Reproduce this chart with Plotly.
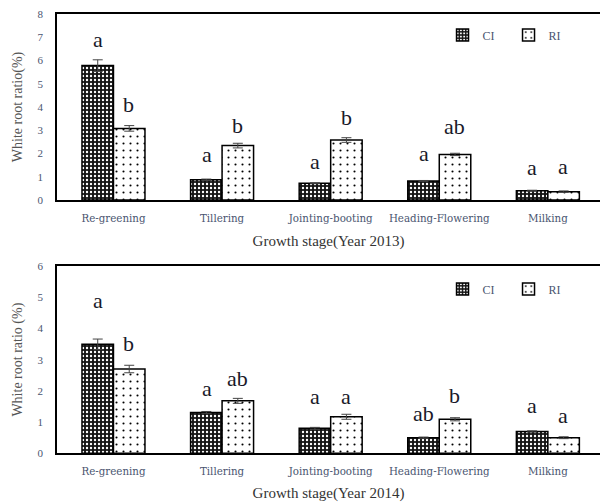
import plotly.graph_objects as go

stages = ["Re-greening", "Tillering", "Jointing-booting", "Heading-Flowering", "Milking"]

# Year 2013
ci_2013 = [5.78, 0.87, 0.72, 0.82, 0.40]
ci_2013_err = [0.25, 0.03, 0.02, 0.02, 0.02]
ri_2013 = [3.08, 2.34, 2.58, 1.96, 0.36]
ri_2013_err = [0.12, 0.10, 0.10, 0.05, 0.03]
ci_2013_sig = ["a", "a", "a", "a", "a"]
ri_2013_sig = ["b", "b", "b", "ab", "a"]
ci_2013_sig_y = [6.9, 1.94, 1.65, 2.0, 1.4]
ri_2013_sig_y = [4.1, 3.2, 3.55, 3.15, 1.46]

# Year 2014
ci_2014 = [3.49, 1.31, 0.80, 0.50, 0.70]
ci_2014_err = [0.17, 0.03, 0.03, 0.02, 0.02]
ri_2014 = [2.70, 1.68, 1.17, 1.09, 0.50]
ri_2014_err = [0.12, 0.08, 0.08, 0.05, 0.03]
ci_2014_sig = ["a", "a", "a", "ab", "a"]
ri_2014_sig = ["b", "ab", "a", "b", "a"]
ci_2014_sig_y = [4.88, 2.08, 1.81, 1.28, 1.54]
ri_2014_sig_y = [3.51, 2.4, 1.81, 1.84, 1.22]

serif = "'Times New Roman', 'Liberation Serif', serif"
ci_pattern = dict(shape=".", size=4, solidity=0.28, fgcolor="white", bgcolor="#141414")
ri_pattern = dict(shape=".", size=7, solidity=0.07, fgcolor="black", bgcolor="white")

fig = go.Figure()

def add_pair(ci, ci_err, ri, ri_err, xa, ya, legend):
    fig.add_trace(go.Bar(x=stages, y=ci, name="CI", xaxis=xa, yaxis=ya, legend=legend,
                         marker=dict(color="#141414", pattern=ci_pattern, line=dict(color="black", width=1.5)),
                         error_y=dict(type="data", array=ci_err, color="#444", thickness=1, width=5)))
    fig.add_trace(go.Bar(x=stages, y=ri, name="RI", xaxis=xa, yaxis=ya, legend=legend,
                         marker=dict(color="white", pattern=ri_pattern, line=dict(color="black", width=1.5)),
                         error_y=dict(type="data", array=ri_err, color="#444", thickness=1, width=5)))

add_pair(ci_2013, ci_2013_err, ri_2013, ri_2013_err, "x", "y", "legend")
add_pair(ci_2014, ci_2014_err, ri_2014, ri_2014_err, "x2", "y2", "legend2")

annotations = []
def add_letters(sig, sig_y, xref, yref, shift):
    for i, (s, yv) in enumerate(zip(sig, sig_y)):
        annotations.append(dict(x=i, y=yv, xref=xref, yref=yref, text=s, showarrow=False,
                                xshift=shift, yanchor="middle",
                                font=dict(family=serif, size=22, color="#1a1a2a")))

add_letters(ci_2013_sig, ci_2013_sig_y, "x", "y", -15.5)
add_letters(ri_2013_sig, ri_2013_sig_y, "x", "y", 15.5)
add_letters(ci_2014_sig, ci_2014_sig_y, "x2", "y2", -15.5)
add_letters(ri_2014_sig, ri_2014_sig_y, "x2", "y2", 15.5)

H = 502
def dom(top_px, bot_px):
    return [1 - bot_px / H, 1 - top_px / H]

tickfont = dict(family="'DejaVu Serif', serif", size=10.3, color="#4a5570")
ytickfont = dict(family=serif, size=11, color="#4a5570")
titlefont = dict(family=serif, size=15, color="#333")
ytitlefont = dict(family=serif, size=14, color="#555")
legfont = dict(family=serif, size=12, color="#4a5570")

xcommon = dict(type="category", range=[-0.52, 4.48], showline=True, linecolor="black", linewidth=1.5,
               mirror=True, ticks="", tickfont=tickfont, showgrid=False, zeroline=False,
               ticklabelstandoff=8, automargin=False)
ycommon = dict(showline=True, linecolor="black", linewidth=1.5, ticks="", showgrid=False,
               zeroline=False, tickfont=ytickfont, ticklabelstandoff=10, dtick=1, automargin=False)

fig.update_layout(
    template="none",
    width=600, height=502,
    margin=dict(l=57, r=0, t=0, b=0, pad=0),
    paper_bgcolor="white", plot_bgcolor="white",
    barmode="group", bargap=0.42, bargroupgap=0,
    showlegend=True,
    xaxis=dict(**xcommon, domain=[0, 1], anchor="y",
               title=dict(text="Growth stage(Year 2013)", font=titlefont, standoff=12)),
    yaxis=dict(**ycommon, domain=dom(14, 200), range=[0, 8], anchor="x",
               title=dict(text="White root ratio(%)", font=ytitlefont, standoff=12)),
    xaxis2=dict(**xcommon, domain=[0, 1], anchor="y2",
                title=dict(text="Growth stage(Year 2014)", font=titlefont, standoff=12)),
    yaxis2=dict(**ycommon, domain=dom(266, 453.3), range=[0, 6], anchor="x2",
                title=dict(text="White root ratio (%)", font=ytitlefont, standoff=12)),
    legend=dict(orientation="h", x=0.71, y=1 - 35 / H, xanchor="left", yanchor="middle",
                entrywidth=21, entrywidthmode="pixels", bgcolor="rgba(0,0,0,0)",
                font=legfont, itemwidth=30),
    legend2=dict(orientation="h", x=0.71, y=1 - 289 / H, xanchor="left", yanchor="middle",
                 entrywidth=21, entrywidthmode="pixels", bgcolor="rgba(0,0,0,0)",
                 font=legfont, itemwidth=30),
    annotations=annotations,
)

fig.write_html("out.html")
